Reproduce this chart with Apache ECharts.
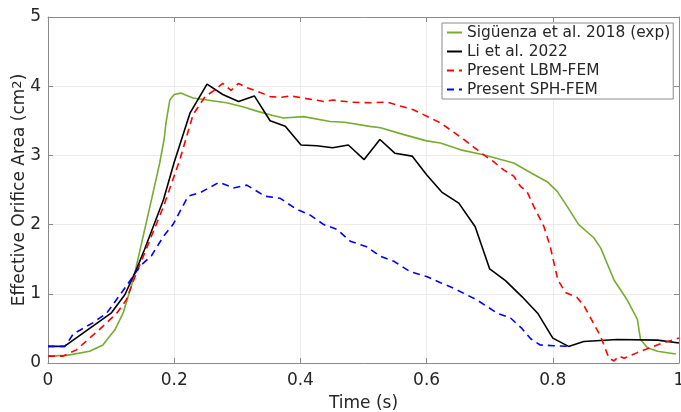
<!DOCTYPE html>
<html>
<head>
<meta charset="utf-8">
<script src="https://cdn.jsdelivr.net/npm/echarts@6/dist/echarts.min.js"></script>
<style>
  html, body { margin: 0; padding: 0; background: #fff; }
  #chart { width: 681px; height: 412px; }
</style>
</head>
<body>
<div id="chart"></div>
<script>
// ---- data ----
const seriesNames = ['Sigüenza et al. 2018 (exp)', 'Li et al. 2022', 'Present LBM-FEM', 'Present SPH-FEM'];

const sigX = [0,0.03,0.066,0.087,0.106,0.119,0.127,0.135,0.146,0.155,0.164,0.177,0.184,0.187,0.193,0.2,0.21,0.23,0.26,0.283,0.31,0.331,0.355,0.373,0.405,0.447,0.47,0.51,0.527,0.564,0.6,0.622,0.654,0.69,0.738,0.765,0.791,0.807,0.823,0.841,0.865,0.876,0.897,0.918,0.934,0.939,0.95,0.966,0.995];
const sigY = [0.1,0.11,0.17,0.26,0.48,0.72,0.96,1.2,1.64,2.0,2.36,2.89,3.23,3.47,3.8,3.88,3.9,3.83,3.79,3.76,3.7,3.64,3.58,3.54,3.56,3.49,3.48,3.42,3.4,3.3,3.21,3.18,3.08,3.01,2.89,2.75,2.62,2.48,2.26,2.0,1.81,1.66,1.2,0.91,0.63,0.34,0.22,0.17,0.13];

const liX = [0,0.026,0.1,0.122,0.14,0.153,0.183,0.2,0.225,0.252,0.277,0.302,0.327,0.352,0.376,0.401,0.426,0.451,0.476,0.501,0.526,0.55,0.577,0.6,0.624,0.651,0.677,0.7,0.725,0.751,0.776,0.8,0.825,0.849,0.902,0.966,1.0];
const liY = [0.24,0.24,0.72,0.99,1.35,1.64,2.36,2.9,3.61,4.03,3.88,3.78,3.86,3.5,3.42,3.15,3.14,3.11,3.15,2.94,3.23,3.03,2.99,2.72,2.47,2.31,1.97,1.36,1.19,0.96,0.72,0.36,0.24,0.31,0.34,0.33,0.29];

const lbmX = [0,0.024,0.045,0.066,0.087,0.109,0.124,0.14,0.151,0.183,0.209,0.23,0.249,0.265,0.277,0.29,0.302,0.315,0.331,0.352,0.37,0.384,0.41,0.437,0.452,0.479,0.511,0.537,0.579,0.622,0.659,0.69,0.706,0.722,0.738,0.749,0.759,0.77,0.786,0.796,0.808,0.82,0.838,0.85,0.876,0.889,0.897,0.905,0.913,0.934,0.971,1.0];
const lbmY = [0.1,0.1,0.19,0.36,0.53,0.72,0.91,1.3,1.54,2.26,2.94,3.59,3.85,3.95,4.04,3.94,4.04,3.98,3.93,3.85,3.84,3.86,3.82,3.78,3.8,3.77,3.76,3.77,3.66,3.47,3.23,3.01,2.91,2.79,2.7,2.55,2.48,2.26,1.97,1.68,1.2,1.02,0.95,0.82,0.38,0.07,0.03,0.1,0.07,0.15,0.28,0.36];

const sphX = [0,0.027,0.04,0.071,0.093,0.124,0.146,0.164,0.183,0.198,0.222,0.243,0.271,0.294,0.315,0.344,0.368,0.394,0.415,0.437,0.458,0.479,0.505,0.527,0.548,0.574,0.6,0.622,0.643,0.68,0.712,0.733,0.751,0.765,0.78,0.801,0.828];
const sphY = [0.24,0.24,0.42,0.58,0.72,1.11,1.4,1.55,1.83,2.0,2.41,2.47,2.61,2.53,2.57,2.41,2.38,2.22,2.14,2.0,1.93,1.76,1.68,1.54,1.47,1.32,1.25,1.16,1.08,0.91,0.72,0.65,0.5,0.35,0.26,0.25,0.24];

const xTicks = [0, 0.2, 0.4, 0.6, 0.8, 1];
const yTicks = [0, 1, 2, 3, 4, 5];

// ---- chart ----
const zip = (xs, ys) => xs.map((x, i) => [x, ys[i]]);
const FONT = 'DejaVu Sans';
const TXT = '#262626';
const AX = '#8a8a8a';

const chart = echarts.init(document.getElementById('chart'), null, { renderer: 'canvas' });

function lineSeries(name, data, color, dashed) {
  return {
    name, type: 'line', data, symbol: 'none', showSymbol: false,
    xAxisIndex: 0, yAxisIndex: 0,
    lineStyle: { color, width: 1.6, type: dashed ? [7, 5] : 'solid' },
    itemStyle: { color },
    animation: false, z: 3
  };
}

const baseX = {
  type: 'value', min: xTicks[0], max: xTicks[xTicks.length - 1], interval: 0.2,
  axisLine: { show: true, onZero: false, lineStyle: { color: AX, width: 1 } },
  axisTick: { show: true, inside: true, length: 5, lineStyle: { color: AX } },
};
const baseY = {
  type: 'value', min: yTicks[0], max: yTicks[yTicks.length - 1], interval: 1,
  axisLine: { show: true, onZero: false, lineStyle: { color: AX, width: 1 } },
  axisTick: { show: true, inside: true, length: 5, lineStyle: { color: AX } },
};

chart.setOption({
  backgroundColor: '#ffffff',
  textStyle: { fontFamily: FONT },
  grid: { left: 48, right: 2, top: 17, bottom: 49, containLabel: false, outerBoundsMode: 'none' },
  legend: {
    orient: 'vertical', left: 442, top: 23,
    data: seriesNames,
    itemWidth: 15, itemHeight: 14, itemGap: 2,
    padding: [1, 3, 1, 4],
    itemStyle: { opacity: 0 },
    backgroundColor: '#ffffff', borderColor: '#8a8a8a', borderWidth: 1, borderRadius: 0,
    textStyle: { fontFamily: FONT, fontSize: 15.4, color: TXT, lineHeight: 17 },
    z: 10
  },
  xAxis: [
    Object.assign({}, baseX, {
      position: 'bottom',
      name: 'Time (s)', nameLocation: 'middle', nameGap: 32, nameMoveOverlap: false,
      nameTextStyle: { fontFamily: FONT, fontSize: 17, color: TXT },
      axisLabel: { show: true, margin: 9, fontFamily: FONT, fontSize: 17, color: TXT },
      splitLine: { show: true, lineStyle: { color: '#ebebeb', width: 1 } }
    }),
    Object.assign({}, baseX, {
      position: 'top', axisLabel: { show: false }, splitLine: { show: false }
    })
  ],
  yAxis: [
    Object.assign({}, baseY, {
      position: 'left',
      name: 'Effective Orifice Area (cm{sup|2})', nameLocation: 'middle', nameGap: 20,
      nameMoveOverlap: false,
      nameRotate: 90,
      nameTextStyle: {
        fontFamily: FONT, fontSize: 17, color: TXT,
        rich: { sup: { fontFamily: FONT, fontSize: 13, color: TXT, verticalAlign: 'top', lineHeight: 10 } }
      },
      axisLabel: { show: true, margin: 7, fontFamily: FONT, fontSize: 17, color: TXT },
      splitLine: { show: true, lineStyle: { color: '#ebebeb', width: 1 } }
    }),
    Object.assign({}, baseY, {
      position: 'right', axisLabel: { show: false }, splitLine: { show: false }
    })
  ],
  series: [
    lineSeries(seriesNames[0], zip(sigX, sigY), '#77AC30', false),
    lineSeries(seriesNames[1], zip(liX, liY), '#000000', false),
    lineSeries(seriesNames[2], zip(lbmX, lbmY), '#FF0000', true),
    lineSeries(seriesNames[3], zip(sphX, sphY), '#0000FF', true)
  ]
});
</script>
</body>
</html>
